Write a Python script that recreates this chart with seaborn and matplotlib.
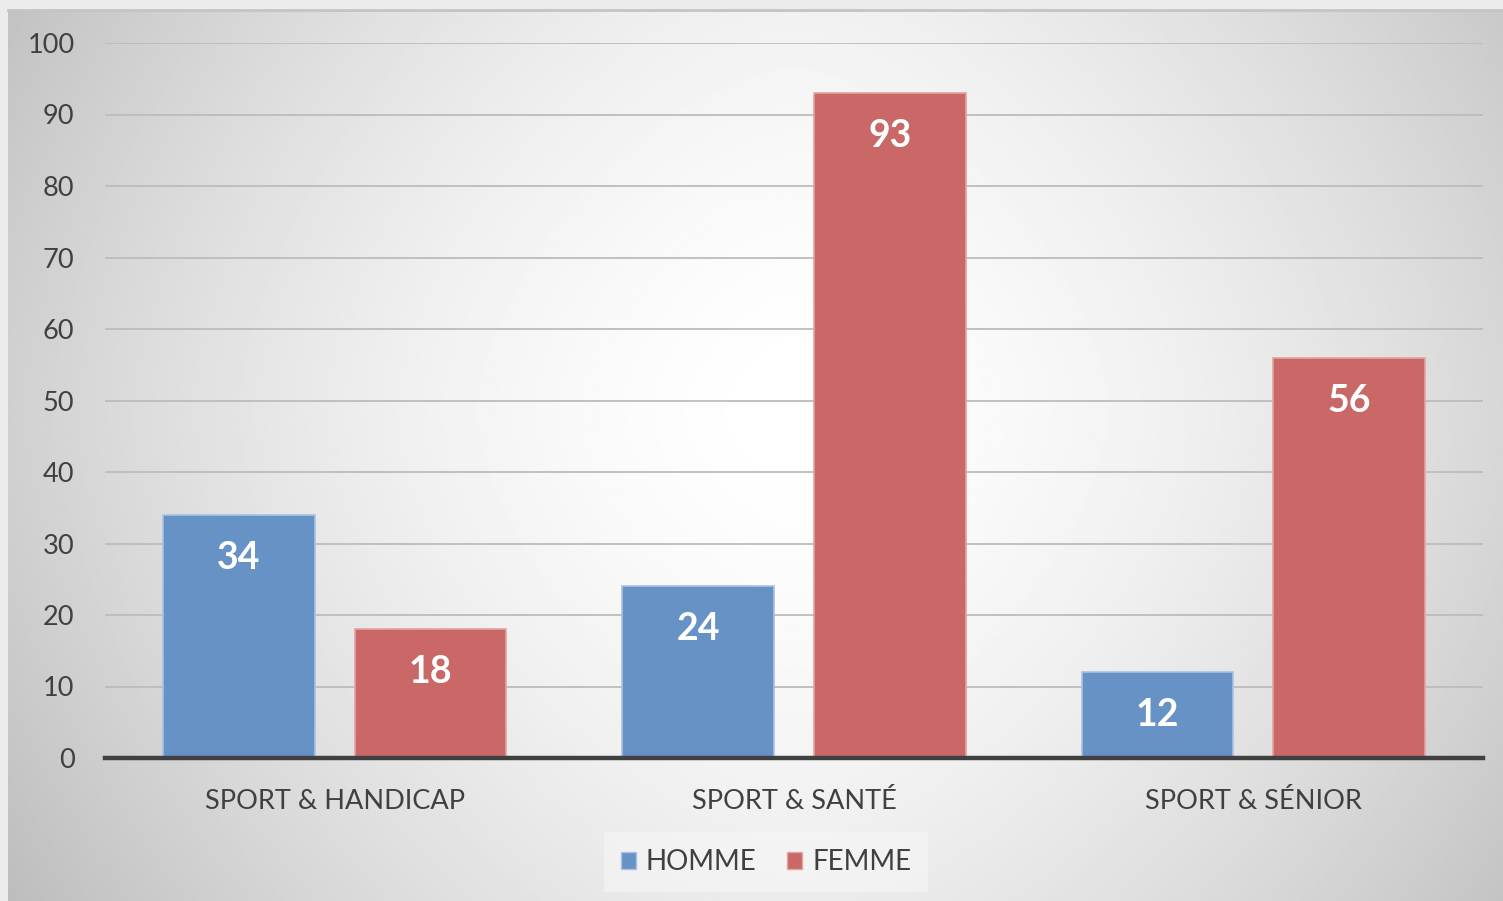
import numpy as np
import pandas as pd
import matplotlib
matplotlib.use("Agg")
import matplotlib.pyplot as plt
import seaborn as sns

# data
categories = ["SPORT & HANDICAP", "SPORT & SANTÉ", "SPORT & SÉNIOR"]
homme = [34, 24, 12]
femme = [18, 93, 56]
series = ["HOMME", "FEMME"]
yticks = [0, 10, 20, 30, 40, 50, 60, 70, 80, 90, 100]

colors = {"HOMME": "#6792C6", "FEMME": "#C96866"}
edge_colors = {"HOMME": "#A9C2E2", "FEMME": "#E3A3A1"}
text_color = "#404040"

df = pd.DataFrame({
    "categorie": categories * 2,
    "sexe": ["HOMME"] * len(categories) + ["FEMME"] * len(categories),
    "valeur": homme + femme,
})

plt.rcParams["font.family"] = ["Lato", "DejaVu Sans"]

fig = plt.figure(figsize=(15.03, 9.01), dpi=100)
fig.patch.set_facecolor("#ececec")

# grey background, lighter in the middle, darker mostly towards left/right edges
bg = fig.add_axes([8 / 1503, 0, 1495 / 1503, 891 / 901], zorder=0)
xx, yy = np.meshgrid(np.linspace(-1, 1, 600), np.linspace(-1, 1, 400))
dx = np.abs(xx - 0.05)
dy = np.abs(yy + 0.1)
shade = 1 - 0.17 * dx ** 1.6 - 0.065 * dy ** 1.6
bg.imshow(shade, cmap="gray", vmin=0, vmax=1, aspect="auto", extent=[0, 1, 0, 1])
bg.axis("off")
fig.add_artist(plt.Line2D([8 / 1503, 1], [891 / 901, 891 / 901], color="#c4c4c4", lw=2))

ax = fig.add_axes([105 / 1503, 1 - 758 / 901, 1378 / 1503, 715 / 901], zorder=1)
ax.patch.set_alpha(0)

sns.barplot(data=df, x="categorie", y="valeur", hue="sexe", hue_order=series,
            palette=colors, saturation=1, width=0.835, ax=ax, legend=True, zorder=3)

# narrow the bars to leave a gap inside each group
bar_w = 0.33
for container, name in zip(ax.containers, series):
    for bar in container:
        cx = bar.get_x() + bar.get_width() / 2
        bar.set_x(cx - bar_w / 2)
        bar.set_width(bar_w)
        bar.set_edgecolor(edge_colors[name])
        bar.set_linewidth(1.2)
        ax.annotate(f"{bar.get_height():.0f}", (cx, bar.get_height()),
                    xytext=(0, -31), textcoords="offset points",
                    ha="center", va="center", color="white",
                    fontsize=27, fontweight="bold", zorder=5)

ax.set_xlim(-0.5, 2.5)
ax.set_ylim(0, 100)
ax.set_yticks(yticks)
ax.yaxis.grid(True, color="#bcbcbc", lw=1.3, zorder=0)
ax.set_axisbelow(True)
for s in ["top", "right", "left"]:
    ax.spines[s].set_visible(False)
ax.spines["bottom"].set_color("#404040")
ax.spines["bottom"].set_linewidth(3.2)
ax.spines["bottom"].set_zorder(4)
ax.tick_params(axis="both", length=0, labelsize=19.5, colors=text_color)
ax.tick_params(axis="x", pad=22)
ax.tick_params(axis="y", pad=22)
ax.set_xlabel("")
ax.set_ylabel("")

handles, labels = ax.get_legend_handles_labels()
for h, name in zip(handles, labels):
    h.set_edgecolor(edge_colors[name])
leg = ax.legend(handles, labels, loc="center", bbox_to_anchor=(766 / 1503, 1 - 862 / 901),
                bbox_transform=fig.transFigure, ncol=2, frameon=True, fontsize=20,
                handlelength=0.55, handleheight=0.55, handletextpad=0.35,
                columnspacing=1.1, borderpad=0.6, fancybox=False,
                facecolor="#f8f8f8", edgecolor="none", framealpha=0.5)
for t in leg.get_texts():
    t.set_color(text_color)

fig.savefig("out.png", dpi=100)
